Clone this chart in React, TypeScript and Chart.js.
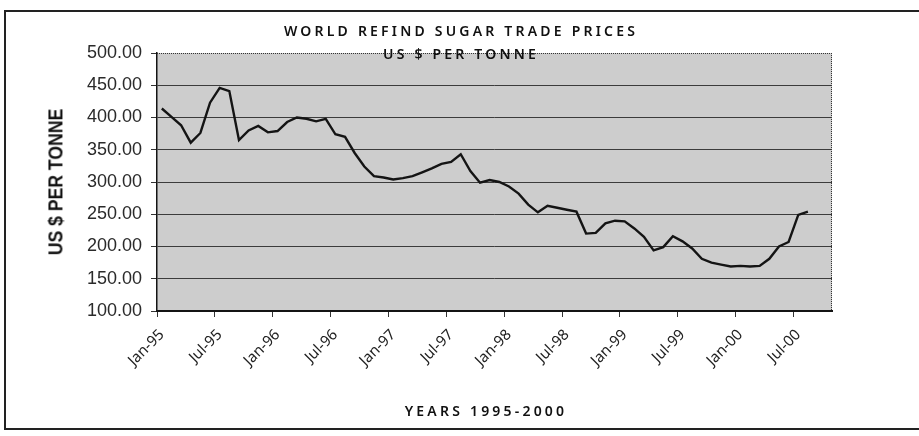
import React, { useEffect, useRef } from "react";
import { Chart, registerables } from "chart.js";

Chart.register(...registerables);

// Monthly categories Jan-95 .. Oct-00 (last two months have no data)
const CATEGORIES: string[] = [
  "Jan-95", "Feb-95", "Mar-95", "Apr-95", "May-95", "Jun-95", "Jul-95", "Aug-95", "Sep-95", "Oct-95", "Nov-95", "Dec-95",
  "Jan-96", "Feb-96", "Mar-96", "Apr-96", "May-96", "Jun-96", "Jul-96", "Aug-96", "Sep-96", "Oct-96", "Nov-96", "Dec-96",
  "Jan-97", "Feb-97", "Mar-97", "Apr-97", "May-97", "Jun-97", "Jul-97", "Aug-97", "Sep-97", "Oct-97", "Nov-97", "Dec-97",
  "Jan-98", "Feb-98", "Mar-98", "Apr-98", "May-98", "Jun-98", "Jul-98", "Aug-98", "Sep-98", "Oct-98", "Nov-98", "Dec-98",
  "Jan-99", "Feb-99", "Mar-99", "Apr-99", "May-99", "Jun-99", "Jul-99", "Aug-99", "Sep-99", "Oct-99", "Nov-99", "Dec-99",
  "Jan-00", "Feb-00", "Mar-00", "Apr-00", "May-00", "Jun-00", "Jul-00", "Aug-00", "Sep-00", "Oct-00",
];

// US $ per tonne
const PRICES: number[] = [
  414, 401, 388, 361, 376, 423, 446, 441, 365, 380, 387, 377,
  379, 393, 400, 398, 394, 398, 374, 370, 345, 324, 309, 307,
  304, 306, 309, 315, 321, 328, 331, 343, 317, 299, 303, 300,
  293, 282, 265, 253, 263, 260, 257, 254, 220, 221, 236, 240,
  239, 228, 215, 194, 199, 216, 208, 197, 181, 175, 172, 169,
  170, 169, 170, 181, 200, 207, 249, 254,
];

const Y_MIN = 100;
const Y_MAX = 500;
const Y_STEP = 50;
const LABEL_EVERY = 6;

const TITLE_1 = "WORLD REFIND SUGAR TRADE PRICES";
const TITLE_2 = "US $ PER TONNE";
const Y_TITLE = "US $ PER TONNE";
const X_TITLE = "YEARS 1995-2000";

const PLOT_BG = "#cdcdcd";
const GRID = "#3c3c3c";
const INK = "#141414";

const areaPlugin = {
  id: "areaDecor",
  beforeDraw(chart: any) {
    const { ctx, chartArea: a } = chart;
    ctx.save();
    ctx.fillStyle = PLOT_BG;
    ctx.fillRect(a.left, a.top, a.right - a.left, a.bottom - a.top);
    ctx.restore();
  },
  afterDraw(chart: any) {
    const { ctx, chartArea: a } = chart;
    ctx.save();
    ctx.strokeStyle = "#333";
    ctx.lineWidth = 1;
    ctx.setLineDash([1, 1]);
    ctx.beginPath();
    ctx.moveTo(a.left, a.top + 0.5);
    ctx.lineTo(a.right, a.top + 0.5);
    ctx.moveTo(a.right - 0.5, a.top);
    ctx.lineTo(a.right - 0.5, a.bottom);
    ctx.stroke();
    ctx.restore();
  },
};

export default function App() {
  const ref = useRef<HTMLCanvasElement | null>(null);

  useEffect(() => {
    if (!ref.current) return;
    const chart = new Chart(ref.current, {
      type: "line",
      data: {
        labels: CATEGORIES,
        datasets: [
          {
            data: PRICES,
            borderColor: INK,
            borderWidth: 2.4,
            pointRadius: 0,
            tension: 0,
            fill: false,
          },
        ],
      },
      options: {
        responsive: false,
        animation: false,
        events: [],
        layout: { padding: { top: 53, right: 87, left: 0, bottom: 0 } },
        plugins: { legend: { display: false }, tooltip: { enabled: false }, title: { display: false } },
        scales: {
          x: {
            type: "category",
            offset: true,
            afterFit: (s: any) => {
              s.height = 125;
            },
            grid: {
              offset: true,
              drawOnChartArea: false,
              drawTicks: true,
              tickLength: 6,
              color: (c: any) => (c.index % LABEL_EVERY === 0 ? "#333" : "rgba(0,0,0,0)"),
            },
            border: { display: true, color: INK, width: 2 },
            ticks: {
              autoSkip: false,
              minRotation: 45,
              maxRotation: 45,
              padding: 9,
              color: "#222",
              font: { family: "'Noto Sans', 'DejaVu Sans', sans-serif", size: 15 },
              callback: (_v: any, i: number) => (i % LABEL_EVERY === 0 ? CATEGORIES[i] : ""),
            },
          },
          y: {
            min: Y_MIN,
            max: Y_MAX,
            afterFit: (s: any) => {
              s.width = 157;
            },
            grid: {
              color: (c: any) => (c.tick && c.tick.value === Y_MAX ? "rgba(0,0,0,0)" : GRID),
              tickColor: "#333",
              lineWidth: 1,
              tickLength: 6,
            },
            border: { display: true, color: INK, width: 1.5 },
            ticks: {
              stepSize: Y_STEP,
              padding: 9,
              color: "#2a2a2a",
              font: { family: "'Liberation Sans', Arial, sans-serif", size: 18 },
              callback: (v: any) => Number(v).toFixed(2),
            },
          },
        },
      },
      plugins: [areaPlugin],
    });
    return () => chart.destroy();
  }, []);

  const titleFont = "'Noto Sans', 'DejaVu Sans', sans-serif";
  const titleStyle: React.CSSProperties = {
    position: "absolute",
    transform: "translateX(-50%)",
    whiteSpace: "nowrap",
    fontFamily: titleFont,
    fontSize: 14,
    fontWeight: 600,
    letterSpacing: 3.2,
    color: "#111",
    lineHeight: "16px",
  };

  return (
    <div
      style={{
        position: "fixed",
        left: 0,
        top: 0,
        width: 919,
        height: 436,
        background: "#fff",
        overflow: "hidden",
      }}
    >
      <div
        style={{
          position: "absolute",
          left: 4,
          top: 10,
          width: 960,
          height: 416,
          border: "2px solid #222",
          borderRight: "none",
        }}
      />
      <canvas ref={ref} width={919} height={436} style={{ position: "absolute", left: 0, top: 0 }} />
      <div style={{ ...titleStyle, left: 461, top: 23 }}>{TITLE_1}</div>
      <div style={{ ...titleStyle, left: 461, top: 46 }}>{TITLE_2}</div>
      <div style={{ ...titleStyle, left: 486, top: 403 }}>{X_TITLE}</div>
      <div
        style={{
          position: "absolute",
          left: 55,
          top: 182,
          transform: "translate(-50%, -50%) rotate(-90deg) scale(0.88, 1.05)",
          whiteSpace: "nowrap",
          fontFamily: "'Liberation Sans', Arial, sans-serif",
          fontWeight: "bold",
          fontSize: 20,
          color: "#111",
          lineHeight: "20px",
        }}
      >
        {Y_TITLE}
      </div>
    </div>
  );
}
